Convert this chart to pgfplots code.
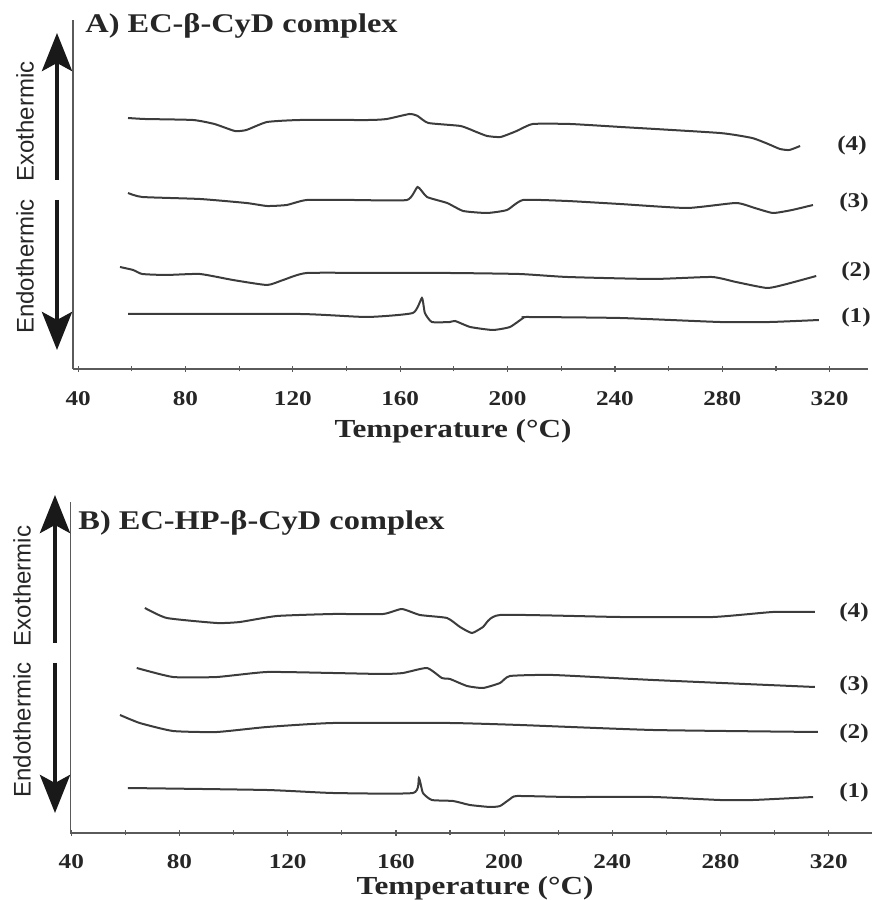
\documentclass[border=0pt]{standalone}
\usepackage{fontspec}
\usepackage{pgfplots}
\pgfplotsset{compat=1.18}
\usetikzlibrary{arrows.meta}
\setmainfont{Liberation Serif}
\newfontfamily\wserif[FakeStretch=1.2]{Liberation Serif}
\newfontfamily\sansf{Liberation Sans}
\definecolor{curve}{HTML}{3C3C3C}
\definecolor{axisc}{HTML}{5A5A5A}
\pgfplotsset{dsc/.style={
  scale only axis,
  axis x line=bottom, axis y line=left,
  axis line style={-, axisc, line width=0.6pt},
  ytick=\empty, xtick={40,80,...,320}, minor xtick={60,100,...,300},
  major tick length=3pt, minor tick length=2.5pt, tick align=center,
  tick style={axisc, line width=0.6pt},
  /pgf/number format/assume math mode=true,
  xticklabel style={font=\wserif\bfseries\fontsize{10.5}{12}\selectfont, text=black!85},
  cycle list={curve,line width=1pt,smooth,tension=0.3,mark=none\\},
  clip=false,
}}
\begin{document}
\begin{tikzpicture}
\useasboundingbox (0,0) rectangle (437.5pt,450pt);
% ---------- Panel A ----------
\begin{axis}[dsc, anchor=south west, at={(36.5pt,265.5pt)},
  width=397.5pt, height=174.5pt, xmin=38.1, xmax=334.3, ymin=-369, ymax=-20,
  xticklabel style={yshift=-6pt}]
\addplot coordinates {(58.6,-118) (64.9,-119) (82.8,-120) (90.8,-124) (98.4,-131) (102.7,-130) (110.4,-122) (122.7,-120) (148.6,-120) (155.0,-119) (163.5,-114) (166.5,-116) (170.5,-123) (182.5,-126) (188.4,-132) (192.4,-136) (197.4,-137) (203.4,-131) (209.4,-124) (223.3,-124) (242.3,-127) (279.1,-133) (291.1,-138) (297.1,-144) (301.5,-149) (305.0,-150) (309.0,-146)};
\addplot coordinates {(58.6,-193) (63.9,-197) (85.4,-199) (102.7,-203) (110.4,-206) (117.7,-205) (125.2,-200) (142.6,-200) (162.5,-200) (166.5,-187) (170.0,-197) (177.5,-203) (183.5,-211) (192.4,-213) (199.8,-210) (205.8,-200) (222.3,-201) (241.9,-204) (266.9,-208) (285.1,-203) (292.1,-208) (298.9,-213) (306.0,-210) (313.8,-205)};
\addplot coordinates {(55.6,-267) (60.5,-270) (63.9,-274) (72.8,-275) (85.4,-274) (97.7,-280) (110.4,-285) (116.4,-280) (125.2,-273) (152.6,-273) (178.5,-273) (204.4,-274) (222.3,-277) (254.2,-279) (276.1,-277) (285.1,-282) (296.7,-288) (304.0,-284) (315.0,-276)};
\addplot coordinates {(58.6,-314) (122.7,-314) (147.6,-317) (164.7,-313) (168.1,-298) (169.2,-313) (171.8,-322) (178.5,-322) (180.5,-321) (186.1,-327) (194.5,-330) (200.9,-327) (205.8,-318) (207.4,-317) (241.9,-318) (279.1,-322) (297.8,-322) (316.0,-320)};
\end{axis}
% ---------- Panel B ----------
\begin{axis}[dsc, anchor=south west, at={(35.1pt,33.5pt)},
  width=400.9pt, height=165.5pt, xmin=39.6, xmax=336.0, ymin=-833, ymax=-502,
  xticklabel style={yshift=-5.5pt}]
\addplot coordinates {(67.2,-608) (75.3,-618) (93.8,-623) (102.3,-622) (116.0,-616) (136.7,-614) (155.2,-614) (162.2,-609) (168.9,-615) (178.9,-618) (183.7,-627) (188.1,-633) (192.2,-627) (198.5,-615) (242.8,-617) (277.2,-617) (299.3,-612) (314.9,-612)};
\addplot coordinates {(64.2,-668) (77.6,-677) (93.8,-677) (112.3,-672) (136.7,-673) (155.2,-674) (162.6,-673) (171.5,-668) (177.0,-678) (180.0,-679) (186.3,-686) (192.2,-688) (198.5,-683) (202.2,-676) (218.1,-675) (255.1,-680) (314.9,-687)};
\addplot coordinates {(58.0,-715) (65.3,-723) (77.6,-731) (93.8,-732) (112.3,-727) (136.7,-723) (180.0,-723) (205.9,-725) (255.1,-730) (316.0,-732)};
\addplot coordinates {(60.9,-788) (112.3,-790) (136.7,-793) (166.3,-793) (168.5,-778) (170.0,-793) (173.3,-800) (181.1,-801) (187.4,-805) (194.8,-807) (198.5,-806) (202.2,-799) (204.8,-796) (224.4,-797) (255.1,-797) (279.8,-800) (292.1,-800) (314.2,-797)};
\end{axis}
% ---------- Titles and labels ----------
\tikzset{tl/.style={font=\wserif\bfseries\fontsize{13.5}{16}\selectfont, text=black!85, inner sep=0pt},
         xl/.style={font=\wserif\bfseries\fontsize{13}{16}\selectfont, text=black!85, inner sep=0pt},
         cl/.style={font=\wserif\bfseries\fontsize{10.5}{12}\selectfont, text=black!85, inner sep=0pt},
         sl/.style={font=\sansf\fontsize{12}{14}\selectfont, text=black!85, rotate=90, inner sep=0pt},
         ar/.style={line width=2.2pt, black!90, -{Stealth[width=15pt,length=19pt,inset=4pt]}}}
\node[tl, anchor=base west] at (42.5pt,433.5pt) {A) EC-β-CyD complex};
\node[tl, anchor=base west] at (39pt,185pt) {B) EC-HP-β-CyD complex};
\node[xl, anchor=base] at (226.5pt,231pt) {Temperature (°C)};
\node[xl, anchor=base] at (237.5pt,2.5pt) {Temperature (°C)};
% curve labels
\node[cl] at (426pt,377.5pt) {(4)};
\node[cl] at (427pt,349pt) {(3)};
\node[cl] at (428pt,314.5pt) {(2)};
\node[cl] at (428pt,291.5pt) {(1)};
\node[cl] at (427pt,144pt) {(4)};
\node[cl] at (427pt,107.5pt) {(3)};
\node[cl] at (427pt,83.5pt) {(2)};
\node[cl] at (427pt,54pt) {(1)};
% exo / endo arrows
\draw[ar] (28.5pt,360pt) -- (28.5pt,433.5pt);
\draw[ar] (28.5pt,350pt) -- (28.5pt,275pt);
\draw[ar] (27.5pt,128.5pt) -- (27.5pt,202.5pt);
\draw[ar] (27.5pt,118.5pt) -- (27.5pt,43.5pt);
\node[sl] at (12.5pt,389.25pt) {Exothermic};
\node[sl] at (12.5pt,316.75pt) {Endothermic};
\node[sl] at (11pt,157pt) {Exothermic};
\node[sl] at (11pt,85pt) {Endothermic};
\end{tikzpicture}
\end{document}
